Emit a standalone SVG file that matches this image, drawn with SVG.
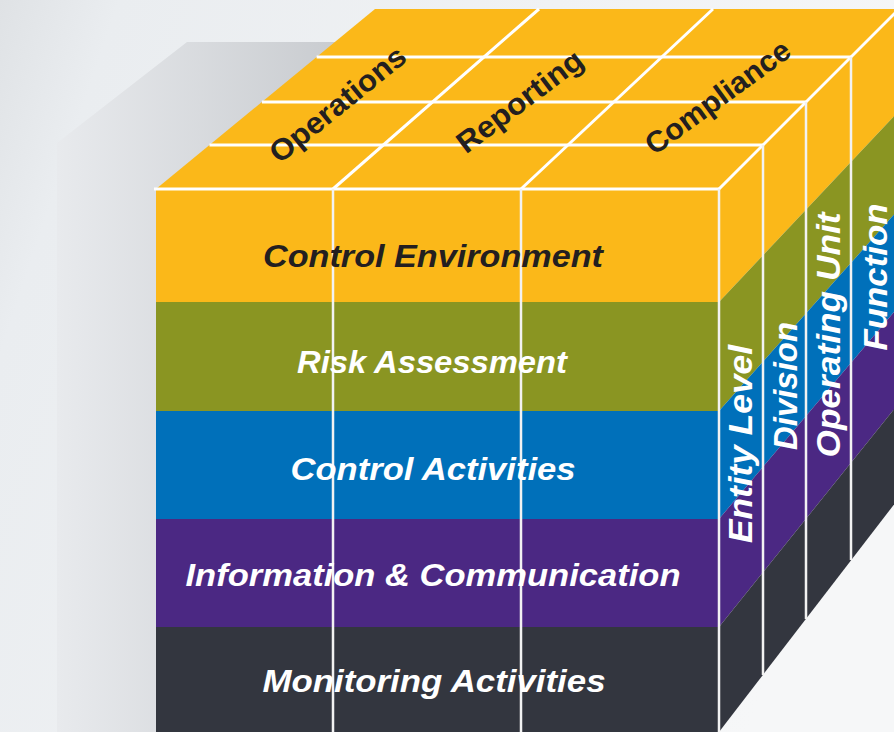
<svg xmlns="http://www.w3.org/2000/svg" width="894" height="732" viewBox="0 0 894 732">
  <defs>
    <linearGradient id="bg" x1="0" y1="0" x2="894" y2="300" gradientUnits="userSpaceOnUse">
      <stop offset="0" stop-color="#dfe2e5"/>
      <stop offset="0.12" stop-color="#eaedf0"/>
      <stop offset="1" stop-color="#f6f7f8"/>
    </linearGradient>
    <linearGradient id="shadow" x1="57" y1="0" x2="345" y2="0" gradientUnits="userSpaceOnUse">
      <stop offset="0" stop-color="#e8eaed"/>
      <stop offset="1" stop-color="#c8cbcf"/>
    </linearGradient>
    <style>
      .yel { fill: #fbb819; }
      .olv { fill: #8a9522; }
      .blu { fill: #0070ba; }
      .pur { fill: #4b2883; }
      .drk { fill: #33363f; }
      .grid line { stroke: #ffffff; stroke-width: 3; stroke-linecap: butt; }
      .grid line.v { stroke: #f2f2f2; stroke-width: 2.5; }
      .front { font-family: "Liberation Sans", Arial, sans-serif; font-weight: 700; font-style: italic; font-size: 31px; text-anchor: middle; }
      .side { font-family: "Liberation Sans", Arial, sans-serif; font-weight: 700; font-style: italic; font-size: 33px; text-anchor: middle; fill: #ffffff; }
      .topl { font-family: "Liberation Sans", Arial, sans-serif; font-weight: 700; font-size: 30px; text-anchor: middle; fill: #231f20; }
    </style>
  </defs>

  <g id="background">
    <rect x="0" y="0" width="894" height="732" fill="url(#bg)"/>
    <polygon points="187,42 360,42 156,230 156,732 57,732 57,143" fill="url(#shadow)"/>
  </g>

  <g id="top-face">
    <polygon class="yel" points="156,189 375,9 899,9 719,189"/>
  </g>

  <g id="control-environment">
    <rect class="yel" x="156" y="189" width="563" height="113"/>
    <polygon class="yel" points="719,189 899,9 899,111 719,302"/>
  </g>
  <g id="risk-assessment">
    <rect class="olv" x="156" y="302" width="563" height="109"/>
    <polygon class="olv" points="719,302 899,111 899,209 719,411"/>
  </g>
  <g id="control-activities">
    <rect class="blu" x="156" y="411" width="563" height="108"/>
    <polygon class="blu" points="719,411 899,209 899,306 719,519"/>
  </g>
  <g id="information-communication">
    <rect class="pur" x="156" y="519" width="563" height="108"/>
    <polygon class="pur" points="719,519 899,306 899,403 719,627"/>
  </g>
  <g id="monitoring-activities">
    <rect class="drk" x="156" y="627" width="563" height="105"/>
    <polygon class="drk" points="719,627 899,403 899,498 719,732"/>
  </g>

  <g id="grid-lines" class="grid">
    <line x1="316.6" y1="57" x2="851" y2="57"/>
    <line x1="261.9" y1="102" x2="806" y2="102"/>
    <line x1="209.5" y1="145" x2="763" y2="145"/>
    <line x1="154" y1="189" x2="719" y2="189"/>
    <line x1="333" y1="189" x2="539" y2="9"/>
    <line x1="521" y1="189" x2="713" y2="9"/>
    <line x1="719" y1="189" x2="899" y2="9"/>
    <line class="v" x1="333" y1="189" x2="333" y2="732"/>
    <line class="v" x1="521" y1="189" x2="521" y2="732"/>
    <line class="v" x1="719" y1="189" x2="719" y2="732"/>
    <line class="v" x1="763" y1="145" x2="763" y2="675"/>
    <line class="v" x1="806" y1="102" x2="806" y2="619"/>
    <line class="v" x1="851" y1="57" x2="851" y2="560"/>
  </g>

  <g id="front-labels">
    <text class="front" x="433" y="267" fill="#231f20" textLength="340" lengthAdjust="spacingAndGlyphs">Control Environment</text>
    <text class="front" x="432" y="373" fill="#ffffff" textLength="270" lengthAdjust="spacingAndGlyphs">Risk Assessment</text>
    <text class="front" x="433" y="480" fill="#ffffff" textLength="285" lengthAdjust="spacingAndGlyphs">Control Activities</text>
    <text class="front" x="433" y="586" fill="#ffffff" textLength="495" lengthAdjust="spacingAndGlyphs">Information &amp; Communication</text>
    <text class="front" x="434" y="692" fill="#ffffff" textLength="343" lengthAdjust="spacingAndGlyphs">Monitoring Activities</text>
  </g>

  <g id="top-labels">
    <g id="operations" transform="translate(339,106) rotate(-39)">
      <text class="topl" x="0" y="8" textLength="166" lengthAdjust="spacingAndGlyphs">Operations</text>
    </g>
    <g id="reporting" transform="translate(521,103) rotate(-37)">
      <text class="topl" x="0" y="8" textLength="150" lengthAdjust="spacingAndGlyphs">Reporting</text>
    </g>
    <g id="compliance" transform="translate(719,99) rotate(-36)">
      <text class="topl" x="0" y="8" textLength="172" lengthAdjust="spacingAndGlyphs">Compliance</text>
    </g>
  </g>

  <g id="side-labels">
    <g id="entity-level" transform="translate(752,444) rotate(-90)">
      <text class="side" x="0" y="0" textLength="198" lengthAdjust="spacingAndGlyphs">Entity Level</text>
    </g>
    <g id="division" transform="translate(797,386) rotate(-90)">
      <text class="side" x="0" y="0" textLength="128" lengthAdjust="spacingAndGlyphs">Division</text>
    </g>
    <g id="operating-unit" transform="translate(840,335) rotate(-90)">
      <text class="side" x="0" y="0" textLength="245" lengthAdjust="spacingAndGlyphs">Operating Unit</text>
    </g>
    <g id="function" transform="translate(887,277) rotate(-90)">
      <text class="side" x="0" y="0" textLength="147" lengthAdjust="spacingAndGlyphs">Function</text>
    </g>
  </g>
</svg>
